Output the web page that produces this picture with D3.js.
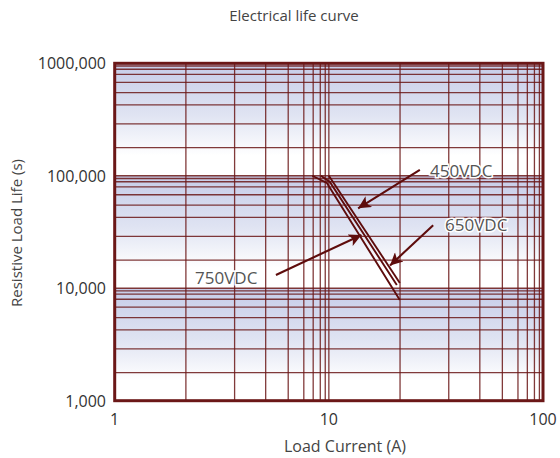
<!DOCTYPE html>
<html lang="en">
<head>
<meta charset="UTF-8">
<title>Electrical life curve</title>
<script src="https://d3js.org/d3.v7.min.js"></script>
<style>
  body { margin: 0; background: #fff; }
  text { font-family: "Open Sans", "Noto Sans", sans-serif; }
</style>
</head>
<body>
<div id="chart"></div>
<script>
  // axis decades and tick labels
  const xTicks = [1, 10, 100];
  const xTickLabels = ["1", "10", "100"];
  const yTicks = [1000, 10000, 100000, 1000000];
  const yTickLabels = ["1,000", "10,000", "100,000", "1000,000"];

  // minor grid positions inside one decade
  const xMinorSteps = [2.15, 3.63, 5.07, 6.46, 7.64, 8.45, 9.12, 9.62];
  const yMinorSteps = [1.78, 2.89, 4.27, 5.48, 6.78, 7.98, 8.85, 9.46];

  // curves: [current A, life s]
  const curve750 = [[8.37, 100000], [9.79, 86300], [21.45, 7870]];
  const curve650 = [[9.18, 100000], [10.11, 88100], [20.77, 10700]];
  const curve450 = [[10.0, 100000], [21.45, 11150]];
  const curves = [curve750, curve650, curve450];

  // annotation arrows: label, start point, arrow tip
  const labels = ["450VDC", "650VDC", "750VDC"];
  const arrowFrom = [[26.6, 112600], [30.7, 36300], [5.66, 13130]];
  const arrowTo = [[13.7, 51400], [19.3, 15950], [14.2, 29770]];

  const width = 560, height = 458;
  const margin = {top: 63.3, right: 17, bottom: 57.3, left: 114.7};

  const svg = d3.select("#chart").append("svg")
    .attr("width", width)
    .attr("height", height);

  const x = d3.scaleLog().domain([1, 100]).range([margin.left, width - margin.right]);
  const y = d3.scaleLog().domain([1000, 1000000]).range([height - margin.bottom, margin.top]);

  const red = "#6b1717";

  // gradient per decade: blue at top, fading to white
  const defs = svg.append("defs");
  const grad = defs.append("linearGradient")
    .attr("id", "band").attr("x1", 0).attr("y1", 0).attr("x2", 0).attr("y2", 1);
  grad.append("stop").attr("offset", "0%").attr("stop-color", "#c6cce8");
  grad.append("stop").attr("offset", "45%").attr("stop-color", "#dfe3f2");
  grad.append("stop").attr("offset", "82%").attr("stop-color", "#ffffff");
  grad.append("stop").attr("offset", "100%").attr("stop-color", "#ffffff");

  const bands = yTicks.slice(0, -1);
  svg.append("g").selectAll("rect")
    .data(bands)
    .join("rect")
    .attr("x", x(1))
    .attr("width", x(100) - x(1))
    .attr("y", d => y(d * 10))
    .attr("height", d => y(d) - y(d * 10))
    .attr("fill", "url(#band)");

  // grid
  const xMinor = xTicks.slice(0, -1).flatMap(d => xMinorSteps.map(s => d * s));
  const yMinor = bands.flatMap(d => yMinorSteps.map(s => d * s));

  const grid = svg.append("g");
  grid.selectAll(".vx")
    .data(xMinor.concat(xTicks))
    .join("line")
    .attr("x1", d => x(d)).attr("x2", d => x(d))
    .attr("y1", y(1000)).attr("y2", y(1000000))
    .attr("stroke", red).attr("stroke-width", 1.3).attr("stroke-opacity", 0.85);
  grid.selectAll(".hy")
    .data(yMinor.concat(yTicks))
    .join("line")
    .attr("y1", d => y(d)).attr("y2", d => y(d))
    .attr("x1", x(1)).attr("x2", x(100))
    .attr("stroke", red).attr("stroke-width", 1.3).attr("stroke-opacity", 0.85);

  // frame
  svg.append("rect")
    .attr("x", x(1)).attr("y", y(1000000))
    .attr("width", x(100) - x(1)).attr("height", y(1000) - y(1000000))
    .attr("fill", "none").attr("stroke", red).attr("stroke-width", 3);

  // curves
  const line = d3.line().x(d => x(d[0])).y(d => y(d[1]));
  svg.append("g").selectAll("path")
    .data(curves)
    .join("path")
    .attr("d", line)
    .attr("fill", "none")
    .attr("stroke", "#5e0c0c")
    .attr("stroke-width", 1.9);

  // arrows
  defs.append("marker")
    .attr("id", "head")
    .attr("viewBox", "0 0 10 10")
    .attr("refX", 10).attr("refY", 5)
    .attr("markerWidth", 8.5).attr("markerHeight", 6)
    .attr("markerUnits", "strokeWidth")
    .attr("orient", "auto")
    .append("path")
    .attr("d", "M0,0 L10,5 L0,10 L2.5,5 Z")
    .attr("fill", "#5e0c0c");

  svg.append("g").selectAll("line")
    .data(labels)
    .join("line")
    .attr("x1", (d, i) => x(arrowFrom[i][0])).attr("y1", (d, i) => y(arrowFrom[i][1]))
    .attr("x2", (d, i) => x(arrowTo[i][0])).attr("y2", (d, i) => y(arrowTo[i][1]))
    .attr("stroke", "#5e0c0c").attr("stroke-width", 2.1)
    .attr("marker-end", "url(#head)");

  // arrow labels
  const labelPos = [[430, 177], [445, 231], [195, 284]];
  svg.append("g").selectAll("text")
    .data(labels)
    .join("text")
    .attr("x", (d, i) => labelPos[i][0])
    .attr("y", (d, i) => labelPos[i][1])
    .attr("font-size", 17)
    .attr("fill", "#555")
    .attr("stroke", "#fff").attr("stroke-width", 3).attr("paint-order", "stroke")
    .text(d => d);

  // tick labels
  svg.append("g").selectAll("text")
    .data(xTicks)
    .join("text")
    .attr("x", d => x(d)).attr("y", 425)
    .attr("text-anchor", "middle")
    .attr("font-size", 16).attr("fill", "#333")
    .text((d, i) => xTickLabels[i]);

  svg.append("g").selectAll("text")
    .data(yTicks)
    .join("text")
    .attr("x", 106).attr("y", d => y(d) + 6)
    .attr("text-anchor", "end")
    .attr("font-size", 16).attr("fill", "#333")
    .text((d, i) => yTickLabels[i]);

  // titles
  svg.append("text")
    .attr("x", 294).attr("y", 21)
    .attr("text-anchor", "middle")
    .attr("font-size", 15).attr("fill", "#444")
    .text("Electrical life curve");

  svg.append("text")
    .attr("x", 345).attr("y", 452)
    .attr("text-anchor", "middle")
    .attr("font-size", 16).attr("fill", "#444")
    .text("Load Current (A)");

  svg.append("text")
    .attr("transform", "translate(22,233) rotate(-90)")
    .attr("text-anchor", "middle")
    .attr("font-size", 15).attr("fill", "#444")
    .text("Resistive Load Life (s)");
</script>
</body>
</html>
